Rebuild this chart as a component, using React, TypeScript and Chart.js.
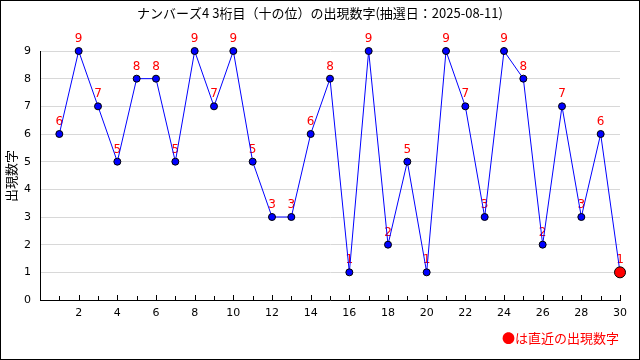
import React, { useEffect, useRef } from "react";
import { Chart, registerables } from "chart.js";

Chart.register(...registerables);

const drawNumbers: number[] = Array.from({ length: 30 }, (_, i) => i + 1);
const digitValues: number[] = [6, 9, 7, 5, 8, 8, 5, 9, 7, 9, 5, 3, 3, 6, 8, 1, 9, 2, 5, 1, 9, 7, 3, 9, 8, 2, 7, 3, 6, 1];
const titleText = "ナンバーズ4 3桁目（十の位）の出現数字(抽選日：2025-08-11)";
const yAxisTitle = "出現数字";
const noteText = "●は直近の出現数字";

const JP = "'Noto Sans CJK JP', 'DejaVu Sans', sans-serif";
const NUM = "'DejaVu Sans', sans-serif";

const decorPlugin = {
  id: "decor",
  beforeDatasetsDraw(chart: any) {
    const ctx = chart.ctx;
    const meta = chart.getDatasetMeta(0);
    ctx.save();
    ctx.fillStyle = "#ff0000";
    ctx.font = `12px ${NUM}`;
    ctx.textAlign = "center";
    ctx.textBaseline = "middle";
    meta.data.forEach((pt: any, i: number) => {
      ctx.fillText(String(digitValues[i]), pt.x, pt.y - 12);
    });
    ctx.restore();
  },
  afterDraw(chart: any) {
    const ctx = chart.ctx;
    const area = chart.chartArea;
    const xs = chart.scales.x;
    ctx.save();
    ctx.strokeStyle = "#000";
    ctx.lineWidth = 1;
    for (let i = 1; i <= 30; i++) {
      const px = Math.round(xs.getPixelForValue(i)) + 0.5;
      ctx.beginPath();
      ctx.moveTo(px, area.bottom);
      ctx.lineTo(px, area.bottom - (i % 2 === 0 ? 5 : 4));
      ctx.stroke();
    }
    ctx.fillStyle = "#000";
    ctx.font = `13px ${JP}`;
    ctx.textAlign = "center";
    ctx.textBaseline = "middle";
    ctx.fillText(titleText, 320, 13);
    ctx.save();
    ctx.translate(11, 176);
    ctx.rotate(-Math.PI / 2);
    ctx.font = `13px ${JP}`;
    ctx.fillText(yAxisTitle, 0, 0);
    ctx.restore();
    ctx.fillStyle = "#ff0000";
    ctx.font = `13px ${JP}`;
    ctx.textAlign = "right";
    ctx.fillText(noteText, 619, 338);
    ctx.strokeStyle = "#000";
    ctx.strokeRect(0.5, 0.5, 639, 359);
    ctx.restore();
  },
};

export default function App() {
  const ref = useRef<HTMLCanvasElement>(null);
  useEffect(() => {
    if (!ref.current) return;
    const last = digitValues.length - 1;
    const chart = new Chart(ref.current, {
      type: "line",
      data: {
        labels: drawNumbers,
        datasets: [
          {
            data: drawNumbers.map((x, i) => ({ x, y: digitValues[i] })),
            borderColor: "#0000ff",
            borderWidth: 1,
            tension: 0,
            clip: false,
            pointRadius: digitValues.map((_, i) => (i === last ? 5.5 : 3.5)),
            pointBackgroundColor: digitValues.map((_, i) => (i === last ? "#ff0000" : "#0000ff")),
            pointBorderColor: "#000",
            pointBorderWidth: 1,
          },
        ],
      },
      options: {
        animation: false,
        responsive: false,
        maintainAspectRatio: false,
        events: [],
        layout: { padding: { top: 51, right: 20, left: 0, bottom: 0 } },
        plugins: { legend: { display: false }, title: { display: false }, tooltip: { enabled: false } },
        scales: {
          x: {
            type: "linear",
            min: 0,
            max: 30,
            grid: { display: false, drawTicks: false },
            border: { display: true, color: "#000", width: 1 },
            ticks: {
              stepSize: 1,
              autoSkip: false,
              maxRotation: 0,
              padding: 7,
              color: "#000",
              font: { family: NUM, size: 11 },
              callback: (v: any) => (v > 0 && v % 2 === 0 ? String(v) : ""),
            },
            afterFit: (s: any) => {
              s.height = 60;
            },
          },
          y: {
            min: 0,
            max: 9,
            grid: { color: "#d8d8d8", drawTicks: false, lineWidth: 1 },
            border: { display: true, color: "#000", width: 1 },
            ticks: {
              stepSize: 1,
              padding: 9,
              color: "#000",
              font: { family: NUM, size: 11 },
            },
            afterFit: (s: any) => {
              s.width = 40;
            },
          },
        },
      },
      plugins: [decorPlugin],
    });
    return () => chart.destroy();
  }, []);
  return (
    <div style={{ position: "absolute", left: 0, top: 0, width: 640, height: 360, background: "#fff" }}>
      <canvas ref={ref} width={640} height={360} style={{ display: "block" }} />
    </div>
  );
}
